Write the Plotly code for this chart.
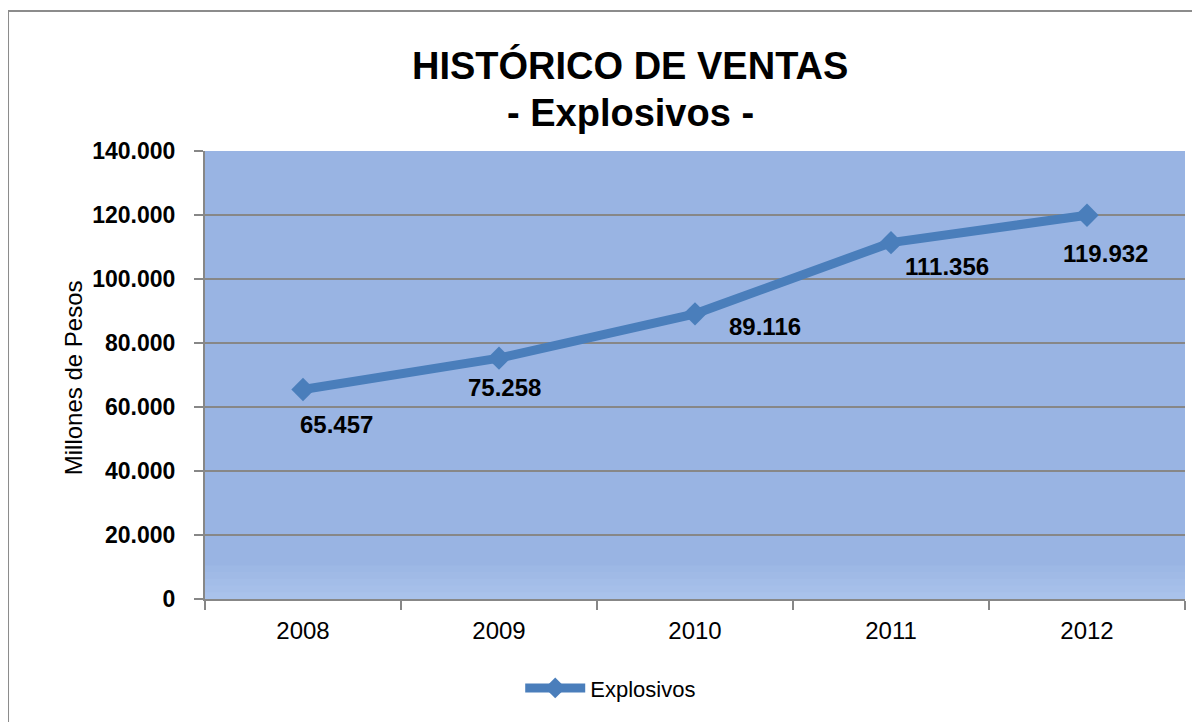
import plotly.graph_objects as go

years = ["2008", "2009", "2010", "2011", "2012"]
ventas = [65457, 75258, 89116, 111356, 119932]
series_name = "Explosivos"
title_line1 = "HISTÓRICO DE VENTAS"
title_line2 = "- Explosivos -"
y_title = "Millones de Pesos"
y_ticks = [0, 20000, 40000, 60000, 80000, 100000, 120000, 140000]

# label offsets in pixels (style only)
label_shift = [(33, -35), (5, -29), (70, -13), (56, -24), (18, -38)]

FONT = "Liberation Sans"
LINE_COLOR = "#4A7EBB"
GRID = "#878787"

fig = go.Figure()
fig.add_trace(go.Scatter(
    x=years, y=ventas, name=series_name, mode="lines+markers",
    line=dict(color=LINE_COLOR, width=9),
    marker=dict(symbol="diamond", size=18, color=LINE_COLOR),
))

annotations = []
for i, (yv, (dx, dy)) in enumerate(zip(ventas, label_shift)):
    annotations.append(dict(
        x=i, y=yv, xref="x", yref="y", showarrow=False,
        text=f"{yv:,}".replace(",", "."),
        font=dict(family=FONT, size=24, color="black", weight="bold"),
        xshift=dx, yshift=dy, xanchor="center", yanchor="middle",
    ))
annotations += [
    dict(x=0.4337, y=1.190, xref="paper", yref="paper", showarrow=False,
         text=f"<b>{title_line1}</b>", font=dict(family=FONT, size=38, color="black"),
         xanchor="center", yanchor="middle"),
    dict(x=0.4337, y=1.085, xref="paper", yref="paper", showarrow=False,
         text=f"<b>{title_line2}</b>", font=dict(family=FONT, size=38, color="black"),
         xanchor="center", yanchor="middle"),
    dict(x=-0.1347, y=0.495, xref="paper", yref="paper", showarrow=False,
         text=y_title, textangle=-90, font=dict(family=FONT, size=24, color="black"),
         xanchor="center", yanchor="middle"),
]

shapes = [
    dict(type="rect", xref="paper", yref="paper", x0=-0.201, x1=1.2, y0=-0.5, y1=1.3125,
         line=dict(color="#8C8C8C", width=2), fillcolor="rgba(0,0,0,0)", layer="below"),
]
# subtle light gradient near the bottom of the plot area
bands = ["#9DB8E5", "#A0BAE6", "#A3BDE8", "#A6BFE9", "#A9C2EB"]
for i, c in enumerate(bands):
    shapes.append(dict(type="rect", xref="paper", yref="paper", x0=0, x1=1,
                       y0=0, y1=0.075 - i * 0.015, fillcolor=c, line=dict(width=0),
                       layer="below"))

fig.update_layout(
    width=1200, height=722,
    margin=dict(l=197, r=23, t=143, b=131),
    paper_bgcolor="white", plot_bgcolor="#99B4E3",
    separators=",.",
    font=dict(family=FONT, color="black"),
    showlegend=True,
    legend=dict(orientation="h", x=0.414, y=-0.199, xanchor="center", yanchor="middle",
                font=dict(family=FONT, size=22), itemwidth=60, bgcolor="rgba(0,0,0,0)"),
    annotations=annotations,
    shapes=shapes,
)
fig.update_xaxes(
    type="category", range=[-0.5, len(years) - 0.5], tickson="boundaries",
    ticks="outside", ticklen=9, tickwidth=2, tickangle=0, automargin=False,
    tickcolor=GRID, showline=True, linecolor=GRID, linewidth=2, showgrid=False,
    tickfont=dict(family=FONT, size=24), ticklabelstandoff=9, zeroline=False,
)
fig.update_yaxes(
    range=[0, 140000], tickvals=y_ticks, tickformat=",d", ticks="outside", ticklen=9,
    tickwidth=2, tickcolor=GRID, showline=True, linecolor=GRID, linewidth=2,
    showgrid=True, gridcolor=GRID, gridwidth=2, zeroline=False, automargin=False,
    tickfont=dict(family=FONT, size=23, weight="bold"), ticklabelstandoff=14,
)
fig.write_html("out.html")
